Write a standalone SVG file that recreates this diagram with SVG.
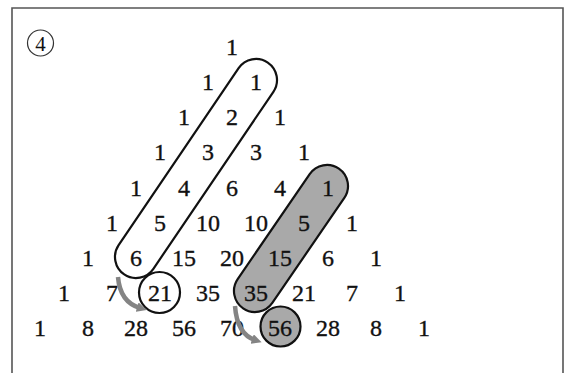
<svg xmlns="http://www.w3.org/2000/svg" width="566" height="373" viewBox="0 0 566 373">
<style>
.n{font-family:"Liberation Serif","DejaVu Serif",serif;font-size:24px;fill:#111;stroke:#111;stroke-width:0.35;text-anchor:middle}
.cap{stroke:#111;stroke-width:2.2}
.arr{fill:none;stroke:#848484;stroke-width:4.5;stroke-linecap:butt}
</style>
<defs>
<marker id="ah" viewBox="0 0 10 10" refX="3" refY="5" markerWidth="10" markerHeight="10" markerUnits="userSpaceOnUse" orient="auto">
<path d="M0,0 L10,5 L0,10 Z" fill="#848484"/>
</marker>
</defs>
<rect width="566" height="373" fill="#fff"/>
<path d="M12 373 V8 H563 V373" fill="none" stroke="#555" stroke-width="1.6"/>
<g id="label4">
<circle cx="40.5" cy="43" r="13" fill="none" stroke="#333" stroke-width="1.2"/>
<text x="40.5" y="51" class="n" style="font-size:21px;stroke-width:0">4</text>
</g>
<g id="shapes">
<path id="whiteCapsule" class="cap" fill="#fff" d="M273.38 91.79 L153.38 268.79 A21 21 0 0 1 118.62 245.21 L238.62 68.21 A21 21 0 0 1 273.38 91.79 Z"/>
<path id="greyCapsule" class="cap" fill="#a9a9a9" d="M344.32 197.88 L272.32 302.88 A21 21 0 0 1 237.68 279.12 L309.68 174.12 A21 21 0 0 1 344.32 197.88 Z"/>
<circle id="circle21" class="cap" cx="159.5" cy="292.5" r="20.5" fill="#fff"/>
<circle id="circle56" class="cap" cx="280.5" cy="326.5" r="20" fill="#a9a9a9"/>
</g>
<g id="numbers">
<text class="n" x="232" y="55">1</text>
<text class="n" x="208" y="90">1</text><text class="n" x="256" y="90">1</text>
<text class="n" x="184" y="125">1</text><text class="n" x="232" y="125">2</text><text class="n" x="280" y="125">1</text>
<text class="n" x="160" y="160">1</text><text class="n" x="208" y="160">3</text><text class="n" x="256" y="160">3</text><text class="n" x="304" y="160">1</text>
<text class="n" x="136" y="196">1</text><text class="n" x="184" y="196">4</text><text class="n" x="232" y="196">6</text><text class="n" x="280" y="196">4</text><text class="n" x="328" y="196">1</text>
<text class="n" x="112" y="231">1</text><text class="n" x="160" y="231">5</text><text class="n" x="208" y="231">10</text><text class="n" x="256" y="231">10</text><text class="n" x="304" y="231">5</text><text class="n" x="352" y="231">1</text>
<text class="n" x="88" y="266">1</text><text class="n" x="136" y="266">6</text><text class="n" x="184" y="266">15</text><text class="n" x="232" y="266">20</text><text class="n" x="280" y="266">15</text><text class="n" x="328" y="266">6</text><text class="n" x="376" y="266">1</text>
<text class="n" x="64" y="301">1</text><text class="n" x="112" y="301">7</text><text class="n" x="160" y="301">21</text><text class="n" x="208" y="301">35</text><text class="n" x="256" y="301">35</text><text class="n" x="304" y="301">21</text><text class="n" x="352" y="301">7</text><text class="n" x="400" y="301">1</text>
<text class="n" x="40" y="336">1</text><text class="n" x="88" y="336">8</text><text class="n" x="136" y="336">28</text><text class="n" x="184" y="336">56</text><text class="n" x="232" y="336">70</text><text class="n" x="280" y="336">56</text><text class="n" x="328" y="336">28</text><text class="n" x="376" y="336">8</text><text class="n" x="424" y="336">1</text>
</g>
<g id="connectors">
<path class="arr" d="M118 277 Q120 302 140 308" marker-end="url(#ah)"/>
<path class="arr" d="M235 306 Q237 334 255 340" marker-end="url(#ah)"/>
</g>
</svg>
